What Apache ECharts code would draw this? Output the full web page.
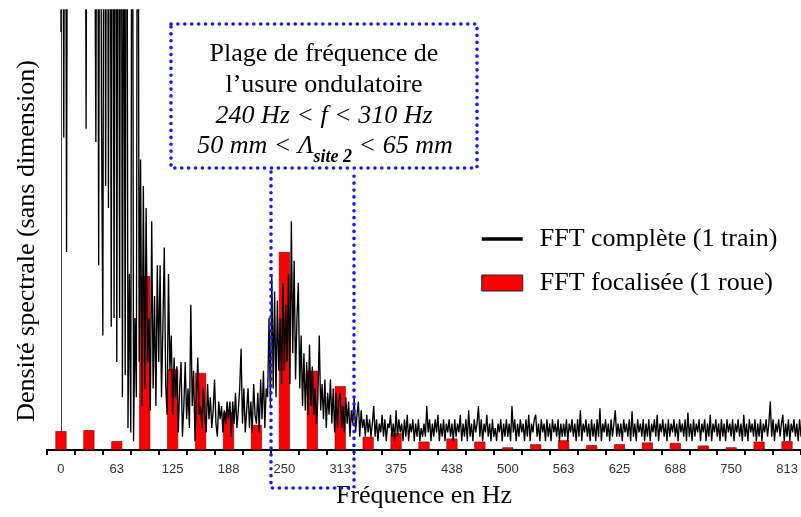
<!DOCTYPE html>
<html><head><meta charset="utf-8">
<script src="https://cdn.jsdelivr.net/npm/echarts@6/dist/echarts.min.js"></script>
<style>html,body{margin:0;padding:0;background:#fff}#c{width:801px;height:517px}</style>
</head><body><div id="c"></div>
<script>
// Frequency categories of the focused FFT (Hz), tick labels
const categories = ['0','31','63','94','125','156','188','219','250','281','313','344','375','406','438','469','500','531','563','594','625','656','688','719','750','781','813'];
// FFT focalisée (1 roue) — bar heights (sans dimension)
const barValues = [4.3, 4.5, 2.0, 39.5, 18.4, 17.5, 8.6, 5.7, 45, 18, 14.5, 3.0, 3.8, 1.9, 2.6, 1.9, 0.6, 1.3, 2.2, 1.1, 1.3, 1.7, 1.6, 1.0, 0.6, 1.9, 2.0];
// FFT complète (1 train) — spectrum sampled every 1.5625 Hz, one row per 31.25 Hz band
const lineStepHz = 1.5625;
const lineRows = [
  [95, 200, 71, 200, 45, 200, 200, 200, 200, 200, 200, 200, 200, 200, 200, 200, 200, 200, 73, 200],
  [200, 200, 200, 200, 200, 70, 200, 42, 200, 78, 26, 200, 60, 200, 55, 200, 28, 200, 30, 200],
  [20, 200, 30, 200, 12, 150, 17, 200, 5, 40, 4, 200, 2, 30, 12, 200, 20, 66, 10, 60],
  [14, 55, 20, 30, 9, 52, 14, 35, 10, 42, 20, 42, 12, 28, 46, 15, 8, 40, 18, 26],
  [8, 21, 12, 19, 4, 14, 20, 3, 10, 20, 7, 14, 5, 33, 10, 18, 2, 12, 21, 8],
  [10, 5, 14, 8, 4, 15, 7, 12, 5, 9, 16, 6, 3, 11, 7, 10, 4, 9, 6, 11],
  [7, 11, 3, 11, 6, 13, 5, 9, 14, 23, 6, 14, 4, 9, 14, 5, 11, 4, 15, 8],
  [6, 13, 4, 16, 7, 18, 5, 14, 12, 30, 10, 40, 14, 36, 12, 34, 18, 30, 15, 38],
  [18, 33, 20, 40, 15, 52, 22, 43, 16, 30, 38, 14, 26, 10, 22, 9, 20, 8, 24, 10],
  [19, 8, 14, 6, 12, 26, 9, 15, 7, 16, 5, 13, 8, 16, 6, 14, 4, 13, 5, 11],
  [13, 5, 10, 4, 12, 6, 11, 3, 9, 6, 12, 4, 8, 11, 3, 9, 5, 7, 3, 8],
  [4, 7, 3, 6, 10, 3, 7, 2, 6, 4, 8, 3, 7, 2, 6, 5, 8, 3, 6, 2],
  [9, 3, 7, 4, 6, 2, 7, 3, 8, 2, 6, 4, 7, 2, 6, 3, 7, 2, 5, 3],
  [6, 3, 10, 4, 7, 2, 6, 3, 7, 4, 8, 2, 6, 3, 7, 2, 6, 4, 7, 3],
  [6, 2, 7, 3, 6, 4, 8, 2, 6, 3, 7, 2, 9, 3, 6, 2, 7, 4, 6, 10],
  [3, 7, 2, 6, 4, 8, 3, 6, 2, 7, 3, 5, 2, 6, 4, 7, 2, 6, 3, 7],
  [3, 6, 2, 10, 4, 7, 2, 6, 3, 7, 4, 6, 2, 7, 3, 8, 2, 6, 4, 7],
  [8, 3, 6, 2, 7, 4, 6, 2, 7, 3, 6, 2, 7, 4, 6, 3, 7, 2, 6, 3],
  [6, 3, 7, 2, 6, 4, 7, 3, 6, 2, 7, 3, 9, 2, 6, 4, 7, 3, 6, 2],
  [7, 3, 6, 2, 7, 3, 9.5, 2, 6, 4, 7, 3, 6, 2, 7, 3, 6, 9, 3, 6],
  [3, 6, 2, 7, 4, 6, 3, 7, 2, 8.8, 3, 6, 2, 7, 4, 6, 3, 7, 2, 6],
  [3, 7, 2, 6, 4, 7, 3, 8, 2, 6, 4, 7, 3, 6, 2, 7, 3, 6, 4, 7],
  [3, 6, 2, 7, 4, 6, 3, 7, 2, 8.5, 3, 6, 2, 7, 3, 6, 4, 7, 2, 6],
  [4, 7, 2, 6, 3, 8, 2, 6, 4, 7, 3, 6, 2, 7, 3, 6, 2, 7, 4, 6],
  [3, 7, 2, 6, 4, 7, 3, 6, 2, 8, 3, 6, 2, 7, 4, 6, 3, 7, 2, 6],
  [3, 7, 2, 6, 4, 7, 3, 6, 11, 3, 7, 2, 6, 4, 7, 3, 6, 8, 2, 6],
  [3, 7, 2, 6, 4, 7, 3, 6, 2, 7, 3, 6, 2, 7, 3, 6, 2, 7, 3, 6]
];
const seriesNames = ['FFT complète (1 train)', 'FFT focalisée (1 roue)'];
const xTitle = 'Fréquence en Hz';
const yTitle = 'Densité spectrale (sans dimension)';

const lineValues = [].concat(...lineRows);
const linePairs = lineValues.map((v, i) => [i * lineStepHz, v]);
const bandHz = 31.25;

const chart = echarts.init(document.getElementById('c'), null, {renderer: 'canvas'});
const serif = '"Liberation Serif", "Times New Roman", serif';
const blue = '#1a1aee';
const dotted = {fill: null, stroke: blue, lineWidth: 3.6, lineDash: [0.1, 6.8], lineCap: 'round'};

chart.setOption({
  animation: false,
  backgroundColor: '#fff',
  grid: {left: 47, right: 0, top: 10, bottom: 67},
  xAxis: [
    {
      type: 'category', data: categories, boundaryGap: true,
      axisLine: {lineStyle: {color: '#000', width: 2}},
      axisTick: {show: true, interval: 0, length: 5, lineStyle: {color: '#000', width: 2}},
      axisLabel: {interval: 1, margin: 13, fontFamily: '"Liberation Sans", Arial, sans-serif', fontSize: 13, color: '#333'},
      splitLine: {show: false},
      name: xTitle, nameLocation: 'middle', nameGap: 33,
      nameTextStyle: {fontFamily: serif, fontSize: 26, color: '#000'}
    },
    {
      type: 'value', min: -bandHz / 2, max: (categories.length - 0.5) * bandHz,
      show: false, position: 'bottom'
    }
  ],
  yAxis: {
    type: 'value', min: 0, max: 100,
    axisLabel: {show: false}, axisTick: {show: false}, splitLine: {show: false},
    axisLine: {show: true, lineStyle: {color: '#444', width: 1}},
    name: yTitle, nameLocation: 'middle', nameGap: 7, nameRotate: 90,
    nameTextStyle: {fontFamily: serif, fontSize: 26, color: '#000', padding: [0, 22, 0, 0]}
  },
  legend: {
    orient: 'vertical', left: 480, top: 226, padding: 0, itemWidth: 41, itemHeight: 16, itemGap: 18,
    textStyle: {fontFamily: serif, fontSize: 26, lineHeight: 26, color: '#000', padding: [0, 0, 0, 12]},
    data: [
      {name: seriesNames[0], itemStyle: {opacity: 0}, lineStyle: {width: 3.5, color: '#000', opacity: 1}},
      {name: seriesNames[1], icon: 'rect', itemStyle: {color: '#ff0000', borderColor: '#222', borderWidth: 1}}
    ]
  },
  series: [
    {
      type: 'bar', name: seriesNames[1], xAxisIndex: 0, data: barValues, barWidth: 11,
      itemStyle: {color: '#ff0000', borderColor: '#7a0000', borderWidth: 0.6}, z: 2
    },
    {
      type: 'line', name: seriesNames[0], xAxisIndex: 1, data: linePairs,
      symbol: 'none', showSymbol: false, clip: true,
      itemStyle: {color: '#000'},
      lineStyle: {color: '#000', width: 1.35}, z: 3
    }
  ],
  graphic: [
    {type: 'rect', shape: {x: 171, y: 24, width: 306, height: 144}, style: dotted, z: 10},
    {type: 'polyline', shape: {points: [[271, 172], [271, 488], [354, 488], [354, 172]]}, style: dotted, z: 10},
    {type: 'text', x: 324, y: 54, z: 11, style: {text: 'Plage de fréquence de', fontFamily: serif, fontSize: 26, fill: '#000', align: 'center', verticalAlign: 'middle'}},
    {type: 'text', x: 324, y: 85, z: 11, style: {text: 'l’usure ondulatoire', fontFamily: serif, fontSize: 26, fill: '#000', align: 'center', verticalAlign: 'middle'}},
    {type: 'text', x: 324, y: 116, z: 11, style: {text: '240 Hz < f < 310 Hz', fontFamily: serif, fontStyle: 'italic', fontSize: 26, fill: '#000', align: 'center', verticalAlign: 'middle'}},
    {type: 'text', x: 325, y: 146, z: 11, style: {
      text: '{a|50 mm < Λ}{s|site 2}{a| < 65 mm}', align: 'center', verticalAlign: 'middle',
      rich: {
        a: {fontFamily: serif, fontStyle: 'italic', fontSize: 26, color: '#000', lineHeight: 30, verticalAlign: 'middle'},
        s: {fontFamily: serif, fontStyle: 'italic', fontWeight: 'bold', fontSize: 18, color: '#000', lineHeight: 40, verticalAlign: 'bottom'}
      }
    }}
  ]
});
</script></body></html>
